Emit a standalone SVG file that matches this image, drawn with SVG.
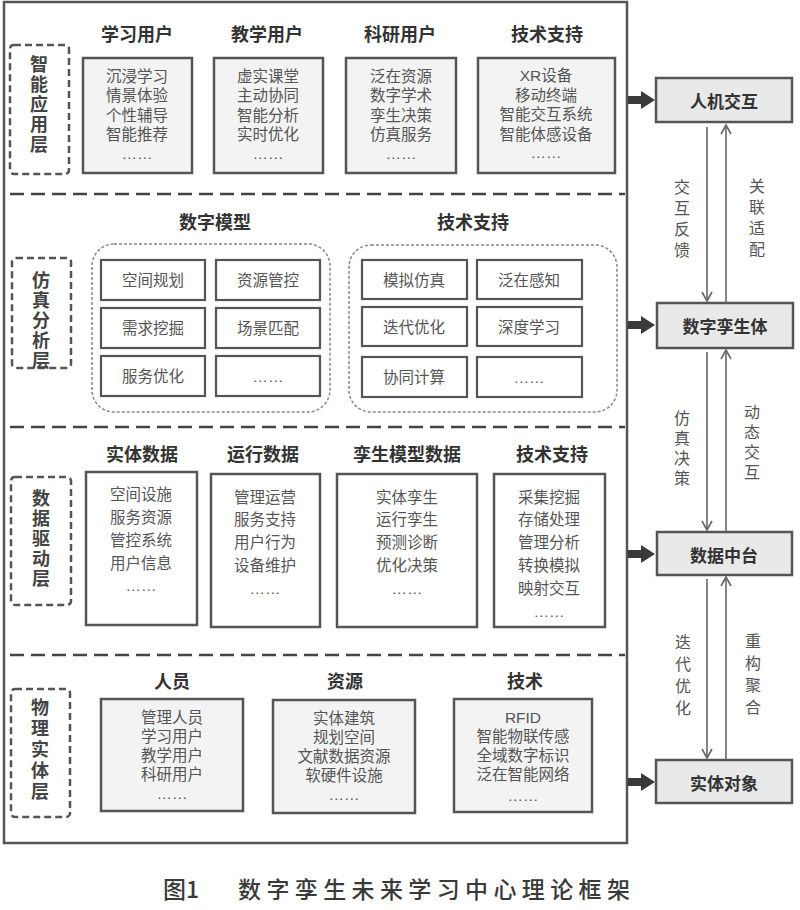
<svg xmlns="http://www.w3.org/2000/svg" width="800" height="910" viewBox="0 0 800 910">
<defs>
<style>
text{font-family:"Noto Sans CJK SC","Noto Sans",sans-serif;}
.hd{font-size:18px;font-weight:bold;fill:#333;text-anchor:middle;dominant-baseline:central;}
.bt{font-family:"Liberation Sans","Noto Sans CJK SC",sans-serif;font-size:15.5px;fill:#555;text-anchor:middle;dominant-baseline:central;}
.lb{font-size:18px;font-weight:bold;fill:#444;text-anchor:middle;writing-mode:vertical-rl;text-orientation:upright;letter-spacing:2px;}
.vt{font-size:16px;fill:#555;text-anchor:middle;writing-mode:vertical-rl;text-orientation:upright;}
.rn{font-size:17px;font-weight:bold;fill:#333;text-anchor:middle;dominant-baseline:central;}
.box{fill:#f3f3f3;stroke:#555;stroke-width:2.5;}
.wbox{fill:#fff;stroke:#555;stroke-width:2.5;}
.ibox{fill:#fff;stroke:#555;stroke-width:2.2;}
.lbl{fill:#fff;stroke:#555;stroke-width:2.5;stroke-dasharray:7 4;}
.grp{fill:#fff;stroke:#888;stroke-width:1.5;stroke-dasharray:3 2;}
.div{stroke:#444;stroke-width:2.5;stroke-dasharray:14 7;fill:none;}
.rbox{fill:#e9e9e9;stroke:#555;stroke-width:2.5;}
.cn{stroke:#666;stroke-width:1.6;fill:none;}
.blk{fill:#3a3a3a;}
</style>
<marker id="ah" markerWidth="12" markerHeight="12" refX="10" refY="6" orient="auto" markerUnits="userSpaceOnUse">
<path d="M1,1 L10,6 L1,11" fill="none" stroke="#666" stroke-width="1.6"/>
</marker>
</defs>
<rect width="800" height="910" fill="#fff"/>
<rect x="4" y="2" width="623" height="841" fill="none" stroke="#555" stroke-width="2.5"/>
<g id="dividers">
<line class="div" x1="10" y1="194" x2="625" y2="194"/>
<line class="div" x1="10" y1="427" x2="625" y2="427"/>
<line class="div" x1="10" y1="655" x2="625" y2="655"/>
</g>

<g id="layer1">
<rect class="lbl" x="10" y="45" width="59" height="129" rx="4"/>
<text class="lb" x="39" y="105">智能应用层</text>
</g>
<g id="l1-study">
<text class="hd" x="137" y="33">学习用户</text>
<rect class="box" x="83" y="58" width="109" height="115"/>
<text class="bt"><tspan x="137" y="76">沉浸学习</tspan><tspan x="137" y="95">情景体验</tspan><tspan x="137" y="115">个性辅导</tspan><tspan x="137" y="134">智能推荐</tspan><tspan x="137" y="153">……</tspan></text>
</g>
<g id="l1-teach">
<text class="hd" x="267" y="33">教学用户</text>
<rect class="box" x="214" y="58" width="109" height="115"/>
<text class="bt"><tspan x="268" y="76">虚实课堂</tspan><tspan x="268" y="95">主动协同</tspan><tspan x="268" y="115">智能分析</tspan><tspan x="268" y="134">实时优化</tspan><tspan x="268" y="153">……</tspan></text>
</g>
<g id="l1-research">
<text class="hd" x="400" y="33">科研用户</text>
<rect class="box" x="346" y="58" width="110" height="115"/>
<text class="bt"><tspan x="401" y="76">泛在资源</tspan><tspan x="401" y="95">数字学术</tspan><tspan x="401" y="115">孪生决策</tspan><tspan x="401" y="134">仿真服务</tspan><tspan x="401" y="153">……</tspan></text>
</g>
<g id="l1-tech">
<text class="hd" x="547" y="33">技术支持</text>
<rect class="box" x="478" y="58" width="137" height="115"/>
<text class="bt"><tspan x="546" y="75">XR设备</tspan><tspan x="546" y="95">移动终端</tspan><tspan x="546" y="114">智能交互系统</tspan><tspan x="546" y="134">智能体感设备</tspan><tspan x="546" y="152">……</tspan></text>
</g>

<g id="layer2">
<rect class="lbl" x="12" y="258" width="59" height="110" rx="4"/>
<text class="lb" x="41" y="321">仿真分析层</text>
</g>
<g id="l2-model">
<text class="hd" x="215" y="221">数字模型</text>
<rect class="grp" x="92" y="244" width="238" height="168" rx="22"/>
<rect class="ibox" x="101" y="260" width="104" height="40"/><text class="bt" x="153" y="280">空间规划</text>
<rect class="ibox" x="216" y="260" width="104" height="40"/><text class="bt" x="268" y="280">资源管控</text>
<rect class="ibox" x="101" y="308" width="104" height="40"/><text class="bt" x="153" y="328">需求挖掘</text>
<rect class="ibox" x="216" y="308" width="104" height="40"/><text class="bt" x="268" y="328">场景匹配</text>
<rect class="ibox" x="101" y="356" width="104" height="40"/><text class="bt" x="153" y="376">服务优化</text>
<rect class="ibox" x="216" y="356" width="104" height="40"/><text class="bt" x="268" y="376">……</text>
</g>
<g id="l2-tech">
<text class="hd" x="473" y="221">技术支持</text>
<rect class="grp" x="349" y="245" width="268" height="167" rx="22"/>
<rect class="ibox" x="362" y="260" width="105" height="39"/><text class="bt" x="414" y="280">模拟仿真</text>
<rect class="ibox" x="477" y="260" width="105" height="39"/><text class="bt" x="529" y="280">泛在感知</text>
<rect class="ibox" x="362" y="307" width="105" height="39"/><text class="bt" x="414" y="327">迭代优化</text>
<rect class="ibox" x="477" y="307" width="105" height="39"/><text class="bt" x="529" y="327">深度学习</text>
<rect class="ibox" x="362" y="357" width="105" height="40"/><text class="bt" x="414" y="377">协同计算</text>
<rect class="ibox" x="477" y="357" width="105" height="40"/><text class="bt" x="529" y="377">……</text>
</g>

<g id="layer3">
<rect class="lbl" x="11" y="477" width="60" height="128" rx="4"/>
<text class="lb" x="41" y="539">数据驱动层</text>
</g>
<g id="l3-entity">
<text class="hd" x="142" y="453">实体数据</text>
<rect class="wbox" x="86" y="472" width="111" height="153"/>
<text class="bt"><tspan x="141" y="494">空间设施</tspan><tspan x="141" y="517">服务资源</tspan><tspan x="141" y="540">管控系统</tspan><tspan x="141" y="563">用户信息</tspan><tspan x="141" y="585">……</tspan></text>
</g>
<g id="l3-run">
<text class="hd" x="263" y="453">运行数据</text>
<rect class="wbox" x="211" y="474" width="109" height="153"/>
<text class="bt"><tspan x="265" y="497">管理运营</tspan><tspan x="265" y="519">服务支持</tspan><tspan x="265" y="542">用户行为</tspan><tspan x="265" y="565">设备维护</tspan><tspan x="265" y="588">……</tspan></text>
</g>
<g id="l3-twin">
<text class="hd" x="407" y="453">孪生模型数据</text>
<rect class="wbox" x="337" y="474" width="140" height="153"/>
<text class="bt"><tspan x="407" y="497">实体孪生</tspan><tspan x="407" y="519">运行孪生</tspan><tspan x="407" y="542">预测诊断</tspan><tspan x="407" y="565">优化决策</tspan><tspan x="407" y="588">……</tspan></text>
</g>
<g id="l3-tech">
<text class="hd" x="552" y="453">技术支持</text>
<rect class="wbox" x="494" y="474" width="111" height="153"/>
<text class="bt"><tspan x="549" y="497">采集挖掘</tspan><tspan x="549" y="519">存储处理</tspan><tspan x="549" y="542">管理分析</tspan><tspan x="549" y="565">转换模拟</tspan><tspan x="549" y="588">映射交互</tspan><tspan x="549" y="611">……</tspan></text>
</g>

<g id="layer4">
<rect class="lbl" x="11" y="689" width="59" height="128" rx="4"/>
<text class="lb" x="40" y="751" style="letter-spacing:3px">物理实体层</text>
</g>
<g id="l4-people">
<text class="hd" x="172" y="680">人员</text>
<rect class="box" x="101" y="699" width="142" height="112"/>
<text class="bt"><tspan x="172" y="717">管理人员</tspan><tspan x="172" y="736">学习用户</tspan><tspan x="172" y="755">教学用户</tspan><tspan x="172" y="774">科研用户</tspan><tspan x="172" y="793">……</tspan></text>
</g>
<g id="l4-res">
<text class="hd" x="345" y="680">资源</text>
<rect class="box" x="273" y="700" width="142" height="113"/>
<text class="bt"><tspan x="344" y="718">实体建筑</tspan><tspan x="344" y="737">规划空间</tspan><tspan x="344" y="756">文献数据资源</tspan><tspan x="344" y="775">软硬件设施</tspan><tspan x="344" y="794">……</tspan></text>
</g>
<g id="l4-tech">
<text class="hd" x="525" y="680">技术</text>
<rect class="box" x="454" y="699" width="138" height="113"/>
<text class="bt"><tspan x="523" y="717">RFID</tspan><tspan x="523" y="736">智能物联传感</tspan><tspan x="523" y="755">全域数字标识</tspan><tspan x="523" y="774">泛在智能网络</tspan><tspan x="523" y="795">……</tspan></text>
</g>

<g id="n-hci"><rect class="rbox" x="656" y="78" width="136" height="44"/><text class="rn" x="724" y="100">人机交互</text></g>
<g id="n-twin"><rect class="rbox" x="657" y="303" width="136" height="45"/><text class="rn" x="725" y="325">数字孪生体</text></g>
<g id="n-data"><rect class="rbox" x="657" y="532" width="135" height="43"/><text class="rn" x="724" y="554">数据中台</text></g>
<g id="n-entity"><rect class="rbox" x="656" y="760" width="136" height="43"/><text class="rn" x="724" y="782">实体对象</text></g>

<g id="connectors">
<path class="blk" d="M628,96 H641 V91 L655,100 L641,109 V104 H628 Z"/>
<path class="blk" d="M628,321 H641 V316 L655,325 L641,334 V329 H628 Z"/>
<path class="blk" d="M628,550 H641 V545 L655,554 L641,563 V558 H628 Z"/>
<path class="blk" d="M628,778 H641 V773 L655,782 L641,791 V786 H628 Z"/>
<line class="cn" x1="707" y1="127" x2="707" y2="301" marker-end="url(#ah)"/>
<line class="cn" x1="726" y1="303" x2="726" y2="125" marker-end="url(#ah)"/>
<line class="cn" x1="707" y1="352" x2="707" y2="530" marker-end="url(#ah)"/>
<line class="cn" x1="726" y1="532" x2="726" y2="350" marker-end="url(#ah)"/>
<line class="cn" x1="707" y1="579" x2="707" y2="758" marker-end="url(#ah)"/>
<line class="cn" x1="726" y1="760" x2="726" y2="577" marker-end="url(#ah)"/>
<text class="vt" x="682" y="221" style="letter-spacing:5px">交互反馈</text>
<text class="vt" x="757" y="220" style="letter-spacing:5px">关联适配</text>
<text class="vt" x="682" y="450" style="letter-spacing:4px">仿真决策</text>
<text class="vt" x="752" y="444" style="letter-spacing:4px">动态交互</text>
<text class="vt" x="683" y="678" style="letter-spacing:6px">迭代优化</text>
<text class="vt" x="753" y="677" style="letter-spacing:6px">重构聚合</text>
</g>
<text x="163" y="888" font-size="23" fill="#3a3a3a" dominant-baseline="central" style="font-family:'Noto Sans CJK SC',sans-serif;font-weight:500">图1</text>
<text x="238" y="888" font-size="23" fill="#3a3a3a" dominant-baseline="central" textLength="392" style="font-family:'Noto Sans CJK SC',sans-serif;font-weight:500">数字孪生未来学习中心理论框架</text>
</svg>
